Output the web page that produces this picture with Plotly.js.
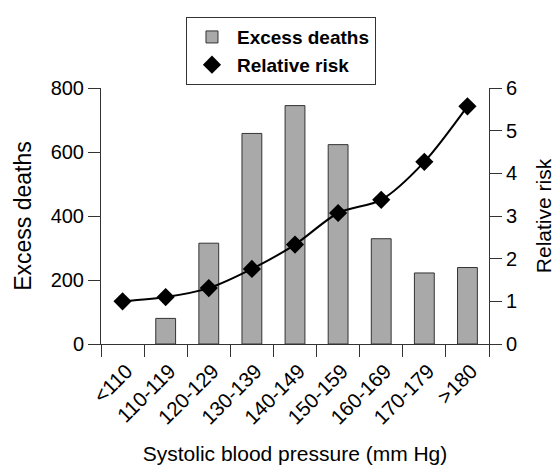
<!DOCTYPE html>
<html><head><meta charset="utf-8">
<script src="https://cdn.plot.ly/plotly-3.0.1.min.js"></script>
<style>html,body{margin:0;padding:0;background:#fff}#chart{width:555px;height:468px}</style>
</head><body><div id="chart"></div>
<script>
const categories = ["<110","110-119","120-129","130-139","140-149","150-159","160-169","170-179",">180"];
const excessDeaths = [null, 80, 315, 658, 745, 623, 329, 222, 239];
const relativeRisk = [1.0, 1.10, 1.31, 1.76, 2.33, 3.07, 3.38, 4.27, 5.57];

const FONT = "Liberation Sans, Arial, sans-serif";
const traces = [
  {type:'bar', x:categories, y:excessDeaths, name:'Excess deaths', width:0.46,
   marker:{color:'#a9a9a9', line:{color:'#333', width:1}}},
  {type:'scatter', mode:'lines', x:categories, y:relativeRisk, yaxis:'y2', showlegend:false,
   line:{color:'#000', width:2, shape:'spline', smoothing:0.8}},
  {type:'scatter', mode:'markers', x:categories, y:relativeRisk, yaxis:'y2', name:'Relative risk',
   marker:{symbol:'diamond', size:14, color:'#000'}}
];
const layout = {
  width:555, height:468, margin:{l:101, r:66, t:88, b:124},
  paper_bgcolor:'#fff', plot_bgcolor:'#fff',
  font:{family:FONT, color:'#000', size:19},
  showlegend:true,
  legend:{x:0.219, y:1.277, xanchor:'left', yanchor:'top', bordercolor:'#333', borderwidth:1,
    font:{family:FONT, size:19, weight:'bold', color:'#000'}, tracegroupgap:0, bgcolor:'#fff',
    itemwidth:40},
  xaxis:{type:'category', range:[-0.5, 8.5], showline:true, linecolor:'#333', linewidth:1,
    ticks:'outside', tickson:'boundaries', ticklen:12, tickcolor:'#333', tickangle:-45,
    tickfont:{size:20.5}, ticklabelstandoff:6, ticklabelshift:4, showgrid:false, zeroline:false,
    title:{text:'Systolic blood pressure (mm Hg)', font:{size:21}, standoff:18}},
  yaxis:{range:[0,800], dtick:200, showline:true, linecolor:'#333', ticks:'outside', ticklen:12,
    tickcolor:'#333', showgrid:false, zeroline:false, tickfont:{size:20},
    title:{text:'Excess deaths', font:{size:23}, standoff:12}},
  yaxis2:{overlaying:'y', side:'right', range:[0,6], dtick:1, showline:true, linecolor:'#333',
    ticks:'outside', ticklen:12, tickcolor:'#333', showgrid:false, zeroline:false, tickfont:{size:20},
    title:{text:'Relative risk', font:{size:21}, standoff:20}}
};
Plotly.newPlot('chart', traces, layout, {displayModeBar:false});
</script></body></html>
